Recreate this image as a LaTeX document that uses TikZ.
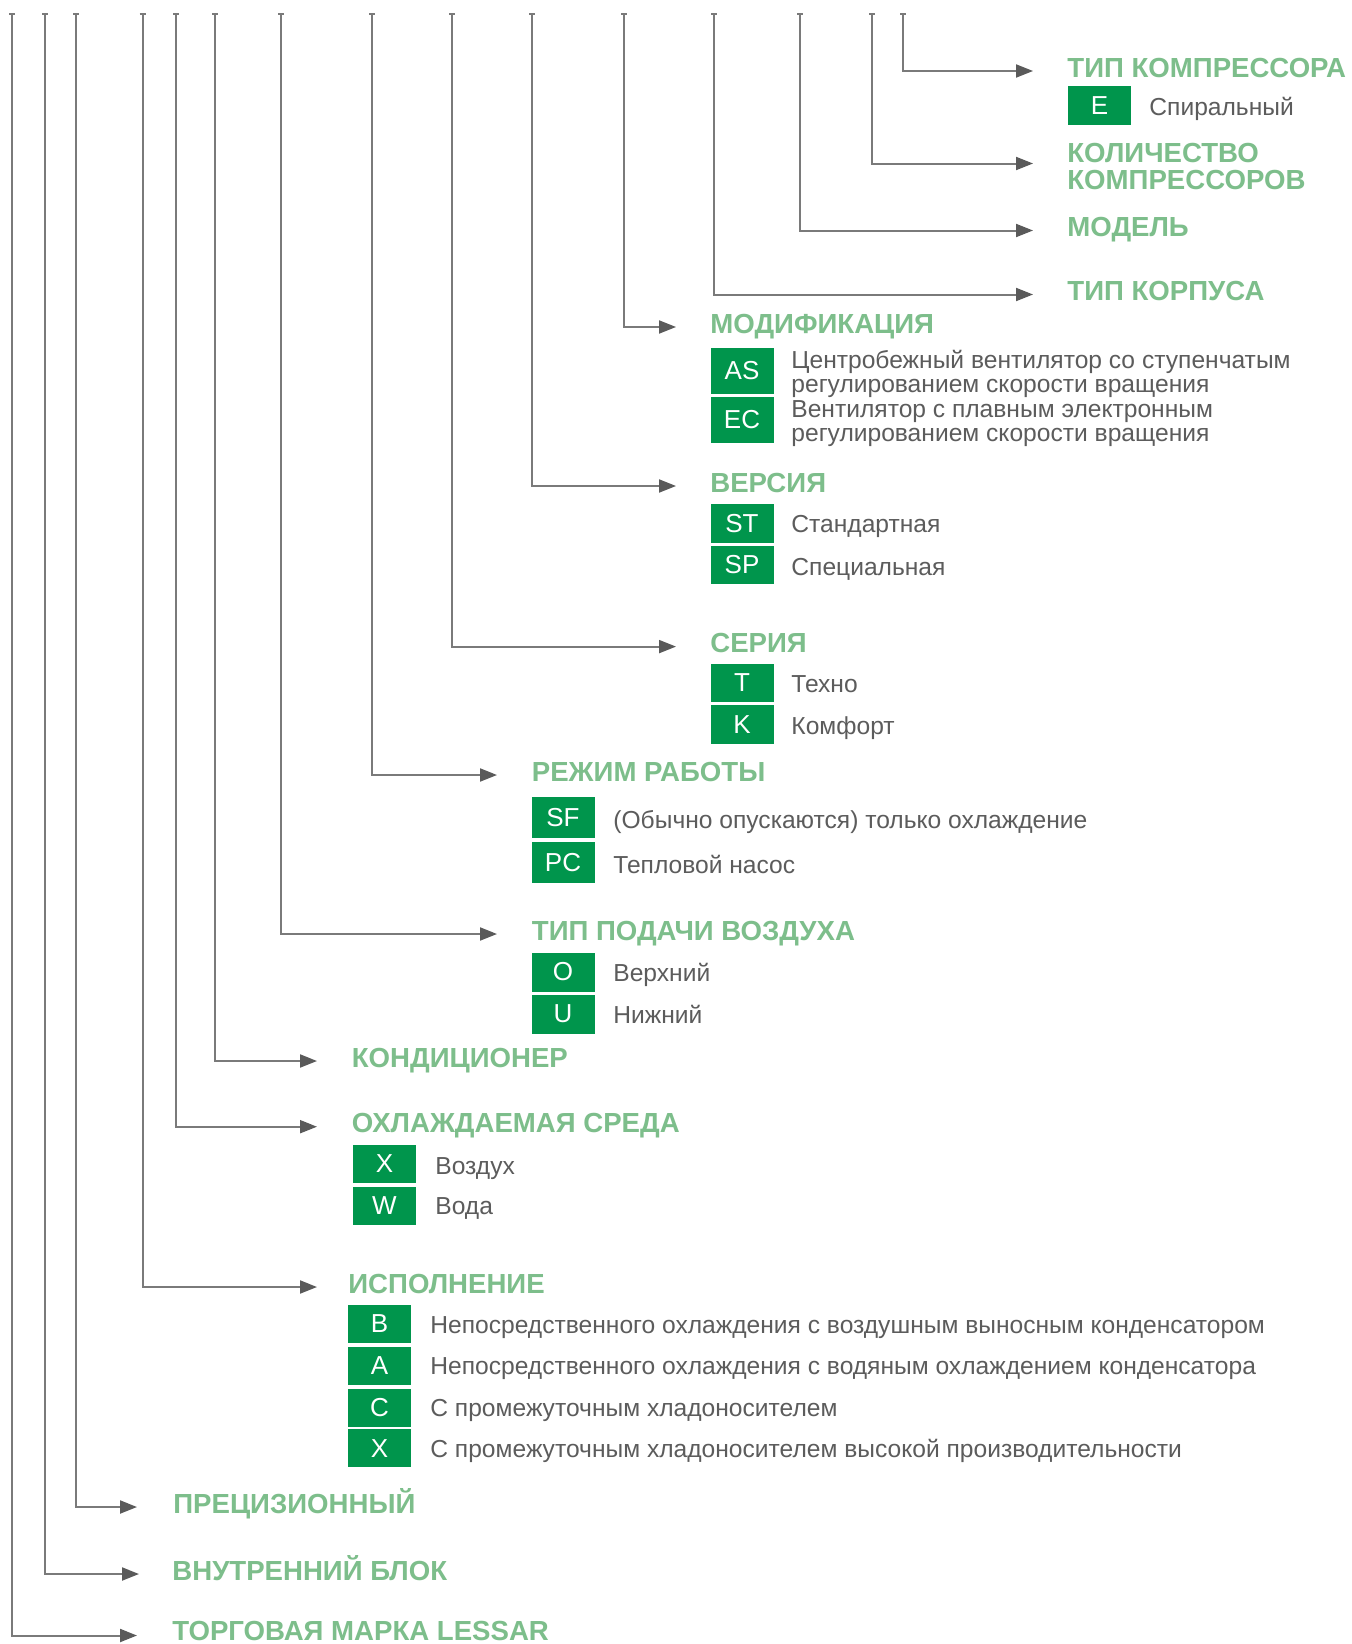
\documentclass[tikz,border=0pt]{standalone}
\usepackage{fontspec}
\setmainfont{Liberation Sans}
\usetikzlibrary{arrows.meta,calc}
\definecolor{hdrgreen}{HTML}{7DBE8B}
\definecolor{boxgreen}{HTML}{00954C}
\definecolor{txtgray}{HTML}{5C5C5C}
\definecolor{linegray}{HTML}{7A7A7A}
\definecolor{arrgray}{HTML}{5A5A5A}
\begin{document}
\begin{tikzpicture}[x=0.5pt,y=-0.5pt,
  hdr/.style={anchor=base west, inner sep=0pt, text=hdrgreen, font=\fontsize{13.8pt}{13.8pt}\selectfont\bfseries},
  desc/.style={anchor=base west, inner sep=0pt, text=txtgray, font=\fontsize{12.3pt}{12.3pt}\selectfont},
  code/.style={rectangle, fill=boxgreen, text=white, inner sep=0pt, minimum width=31.5pt, font=\fontsize{13pt}{13pt}\selectfont},
  conn/.style={draw=linegray, line width=1pt, -{Triangle[length=8.5pt,width=6.5pt,color=arrgray]}},
  tickmark/.style={draw=linegray, line width=1.2pt}
]
\useasboundingbox (0,0) rectangle (1351,1644);
\fill[white] (0,0) rectangle (1351,1644);

% top points of the vertical lines
\foreach \n/\x in {1/903,2/872,3/800,4/714,5/624,6/532,7/452,8/372,9/281,10/215,11/176,12/142.5,13/76,14/45,15/12}{
  \coordinate (t\n) at (\x,14);
  \draw[tickmark] ($(t\n)+(-3,0)$) -- ($(t\n)+(3,0)$);
}

% arrow tips
\coordinate (a1) at (1033,71);
\coordinate (a2) at (1033,163.5);
\coordinate (a3) at (1033,230.5);
\coordinate (a4) at (1033,294.5);
\coordinate (a5) at (676,327);
\coordinate (a6) at (676,486);
\coordinate (a7) at (676,646.6);
\coordinate (a8) at (497,775);
\coordinate (a9) at (497,934);
\coordinate (a10) at (317,1061);
\coordinate (a11) at (317,1126.7);
\coordinate (a12) at (317,1287);
\coordinate (a13) at (137,1507);
\coordinate (a14) at (139,1574);
\coordinate (a15) at (137,1635.5);

\foreach \n in {1,...,15}{
  \draw[conn] (t\n) |- (a\n);
}

% headers
\node[hdr] (h1) at (1067,77) {ТИП КОМПРЕССОРА};
\node[hdr] (h2) at (1067,162.7) {КОЛИЧЕСТВО};
\node[hdr] (h2b) at (1067,189.7) {КОМПРЕССОРОВ};
\node[hdr] (h3) at (1067,236.5) {МОДЕЛЬ};
\node[hdr] (h4) at (1067,300.5) {ТИП КОРПУСА};
\node[hdr] (h5) at (710,333) {МОДИФИКАЦИЯ};
\node[hdr] (h6) at (710,492) {ВЕРСИЯ};
\node[hdr] (h7) at (710,652.6) {СЕРИЯ};
\node[hdr] (h8) at (531.5,781) {РЕЖИМ РАБОТЫ};
\node[hdr] (h9) at (531.5,940) {ТИП ПОДАЧИ ВОЗДУХА};
\node[hdr] (h10) at (351.5,1067) {КОНДИЦИОНЕР};
\node[hdr] (h11) at (351.5,1132.7) {ОХЛАЖДАЕМАЯ СРЕДА};
\node[hdr] (h12) at (348,1293) {ИСПОЛНЕНИЕ};
\node[hdr] (h13) at (173,1513) {ПРЕЦИЗИОННЫЙ};
\node[hdr] (h14) at (172,1580) {ВНУТРЕННИЙ БЛОК};
\node[hdr] (h15) at (172,1640.5) {ТОРГОВАЯ МАРКА LESSAR};

% compressor type
\node[code, minimum height=19.5pt] (cE) at (1099.5,105.5) {E};
\node[desc] (dE) at (1149,115) {Спиральный};

% modification
\node[code, minimum height=23pt] (cAS) at (742,371) {AS};
\node[code, minimum height=23pt] (cEC) at (742,420) {EC};
\node[desc] (dAS1) at (791,368.5) {Центробежный вентилятор со ступенчатым};
\node[desc] (dAS2) at (791,392.5) {регулированием скорости вращения};
\node[desc] (dEC1) at (791,417.7) {Вентилятор с плавным электронным};
\node[desc] (dEC2) at (791,441.8) {регулированием скорости вращения};

% version
\node[code, minimum height=19.5pt] (cST) at (742,523.5) {ST};
\node[code, minimum height=19pt] (cSP) at (742,565) {SP};
\node[desc] (dST) at (791,532) {Стандартная};
\node[desc] (dSP) at (791,575) {Специальная};

% series
\node[code, minimum height=19pt] (cT) at (742,683) {T};
\node[code, minimum height=19.5pt] (cK) at (742,724.5) {K};
\node[desc] (dT) at (791,692) {Техно};
\node[desc] (dK) at (791,734) {Комфорт};

% operating mode
\node[code, minimum height=20.8pt] (cSF) at (563,817.5) {SF};
\node[code, minimum height=20.6pt] (cPC) at (563,862.3) {PC};
\node[desc] (dSF) at (613,828) {(Обычно опускаются) только охлаждение};
\node[desc] (dPC) at (613,873) {Тепловой насос};

% air supply
\node[code, minimum height=19.5pt] (cO) at (563,972) {O};
\node[code, minimum height=19.5pt] (cU) at (563,1014) {U};
\node[desc] (dO) at (613,981.5) {Верхний};
\node[desc] (dU) at (613,1023.5) {Нижний};

% cooled medium
\node[code, minimum height=19.2pt] (cX) at (384.5,1164) {X};
\node[code, minimum height=19.2pt] (cW) at (384.5,1206) {W};
\node[desc] (dX) at (435,1174) {Воздух};
\node[desc] (dW) at (435,1214) {Вода};

% design
\node[code, minimum height=19.4pt] (cB) at (379.5,1324) {B};
\node[code, minimum height=19.4pt] (cA) at (379.5,1366) {A};
\node[code, minimum height=19pt] (cC) at (379.5,1407.5) {C};
\node[code, minimum height=19pt] (cX2) at (379.5,1448.3) {X};
\node[desc] (dB) at (430,1333.7) {Непосредственного охлаждения с воздушным выносным конденсатором};
\node[desc] (dA) at (430,1374.5) {Непосредственного охлаждения с водяным охлаждением конденсатора};
\node[desc] (dC) at (430,1416.5) {С промежуточным хладоносителем};
\node[desc] (dX2) at (430,1457.3) {С промежуточным хладоносителем высокой производительности};
\end{tikzpicture}
\end{document}
